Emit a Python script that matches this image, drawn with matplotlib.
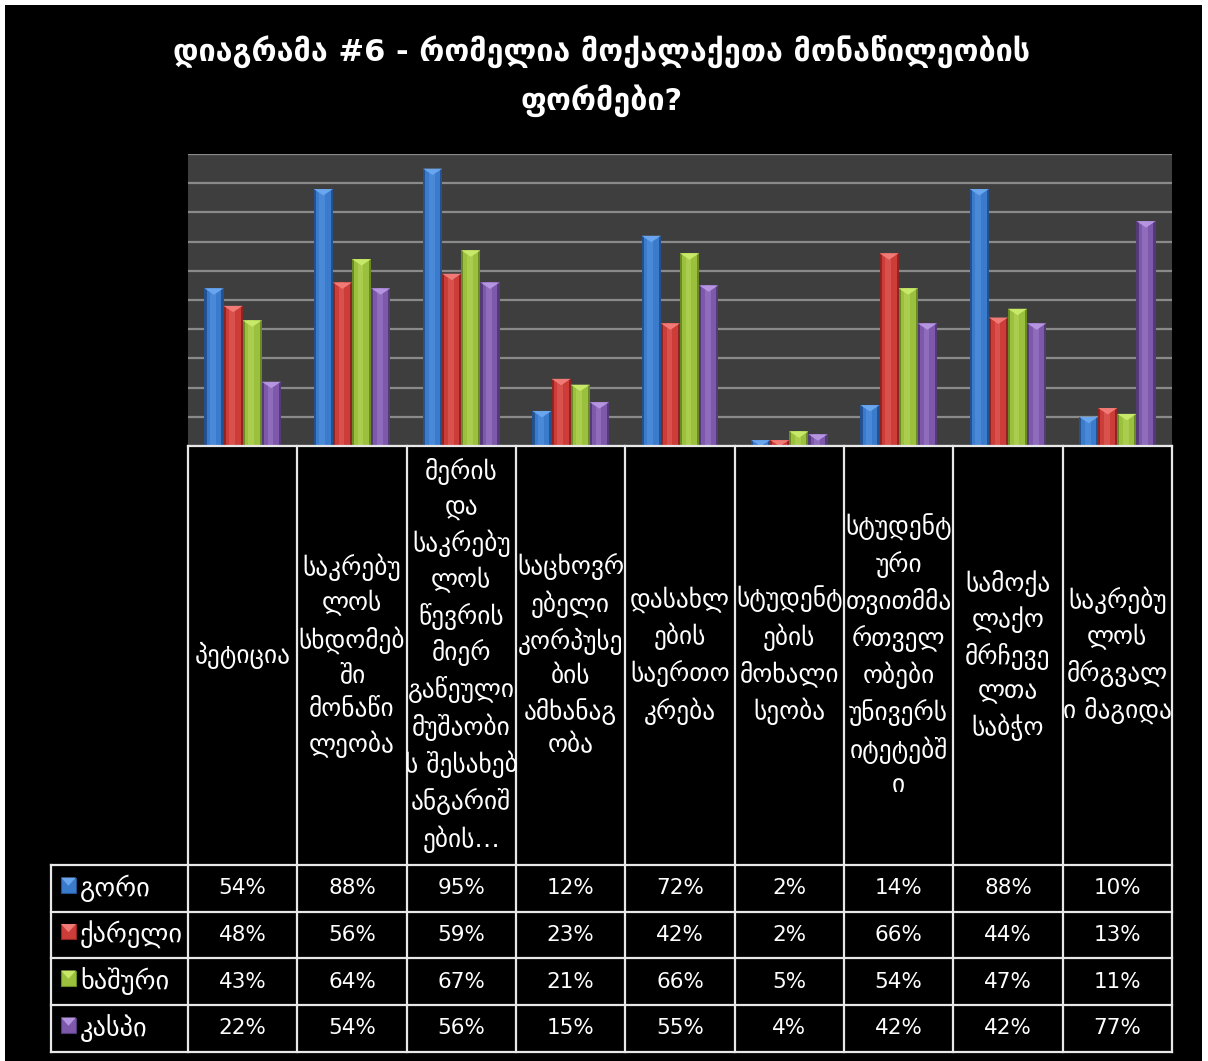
import matplotlib
matplotlib.use("Agg")
import matplotlib.pyplot as plt
from matplotlib.patches import Rectangle, Polygon
import numpy as np

plt.rcParams['font.family'] = ['DejaVu Sans']

title = "დიაგრამა #6 - რომელია მოქალაქეთა მონაწილეობის\nფორმები?"
categories = [
    "პეტიცია",
    "საკრებუ\nლოს\nსხდომებ\nში\nმონაწი\nლეობა",
    "მერის\nდა\nსაკრებუ\nლოს\nწევრის\nმიერ\nგაწეული\nმუშაობი\nს შესახებ\nანგარიშ\nების…",
    "საცხოვრ\nებელი\nკორპუსე\nბის\nამხანაგ\nობა",
    "დასახლ\nების\nსაერთო\nკრება",
    "სტუდენტ\nების\nმოხალი\nსეობა",
    "სტუდენტ\nური\nთვითმმა\nრთველ\nობები\nუნივერს\nიტეტებშ\nი",
    "სამოქა\nლაქო\nმრჩევე\nლთა\nსაბჭო",
    "საკრებუ\nლოს\nმრგვალ\nი მაგიდა",
]
series_names = ["გორი", "ქარელი", "ხაშური", "კასპი"]
gori = [54, 88, 95, 12, 72, 2, 14, 88, 10]
kareli = [48, 56, 59, 23, 42, 2, 66, 44, 13]
khashuri = [43, 64, 67, 21, 66, 5, 54, 47, 11]
kaspi = [22, 54, 56, 15, 55, 4, 42, 42, 77]
series_values = [gori, kareli, khashuri, kaspi]

colors = ["#3a7bcc", "#cc3c38", "#9bc03e", "#7d58ab"]
darks = ["#24518f", "#8f2522", "#6a8a25", "#553a7a"]
lights = ["#6aa6ee", "#f07a75", "#c8e86a", "#b594e0"]

W, H = 1208, 1061
fig = plt.figure(figsize=(W / 100, H / 100), dpi=100)
fig.patch.set_facecolor("white")

def fx(x):
    return x / W

def fy(y):
    return 1 - y / H

# black background
bg = Rectangle((fx(5), 0), fx(1202) - fx(5), fy(5), transform=fig.transFigure,
               facecolor="black", edgecolor="none", zorder=-10)
fig.patches.append(bg)

fig.text(fx(602), fy(76), title, ha="center", va="center", color="white",
         fontsize=22, fontweight="bold", linespacing=1.6)

# plot area
left, right, top, bottom = 188, 1172, 154, 446
ax = fig.add_axes([fx(left), fy(bottom), fx(right) - fx(left), fy(top) - fy(bottom)])
ax.set_zorder(1)
ax.set_facecolor("#3e3e3e")
n = len(categories)
ax.set_xlim(-0.5, n - 0.5)
ax.set_ylim(0, 1.0)
ax.set_yticks(np.arange(0, 1.01, 0.1))
ax.yaxis.grid(True, color="#8a8a8a", linewidth=1.6)
ax.set_axisbelow(True)
ax.tick_params(left=False, bottom=False, labelleft=False, labelbottom=False)
for s in ax.spines.values():
    s.set_visible(False)

bw = 0.175
x = np.arange(n)
cap = 0.022
for k, vals in enumerate(series_values):
    v = np.array(vals) / 100.0
    xs = x + (k - 1.5) * bw
    ax.bar(xs, v, width=bw, color=darks[k], zorder=2, linewidth=0)
    ax.bar(xs, v, width=bw * 0.78, color=colors[k], zorder=3, linewidth=0)
    ax.bar(xs - bw * 0.05, v, width=bw * 0.3, color=lights[k], alpha=0.35, zorder=4, linewidth=0)
    for xi, vi in zip(xs, v):
        h = min(cap, vi)
        ax.add_patch(Polygon([(xi - bw / 2, vi), (xi + bw / 2, vi), (xi, vi - h)],
                             closed=True, facecolor=lights[k], edgecolor="none", zorder=5))

# table
cw = (right - left) / n
col_x = [left + i * cw for i in range(n + 1)]
hdr_top, hdr_bot = 446, 865
row_y = [865, 912, 958, 1005, 1052]
leg_left = 51
lw = 1.6
lc = "#e8e8e8"

def hline(y, x0, x1):
    fig.add_artist(plt.Line2D([fx(x0), fx(x1)], [fy(y), fy(y)], transform=fig.transFigure,
                              color=lc, linewidth=lw, zorder=3))

def vline(xv, y0, y1):
    fig.add_artist(plt.Line2D([fx(xv), fx(xv)], [fy(y0), fy(y1)], transform=fig.transFigure,
                              color=lc, linewidth=lw, zorder=3))

hline(hdr_top, left, right)
for y in row_y:
    hline(y, leg_left, right)
for xv in col_x:
    vline(xv, hdr_top, row_y[-1])
vline(leg_left, row_y[0], row_y[-1])

for i, cat in enumerate(categories):
    fig.text(fx(left + (i + 0.5) * cw), fy((hdr_top + hdr_bot) / 2), cat, ha="center", va="center",
             color="white", fontsize=18.3, linespacing=1.47)

for k, (name, vals) in enumerate(zip(series_names, series_values)):
    yc = (row_y[k] + row_y[k + 1]) / 2
    sq = 15
    sx, sy = 61, yc - 11
    fig.patches.append(Rectangle((fx(sx), fy(sy + sq)), fx(sq), sq / H, transform=fig.transFigure,
                                 facecolor=colors[k], edgecolor=darks[k], linewidth=0.8))
    fig.patches.append(Polygon([(fx(sx), fy(sy)), (fx(sx + sq), fy(sy)), (fx(sx + sq / 2), fy(sy + sq * 0.55))],
                               closed=True, transform=fig.transFigure, facecolor=lights[k], edgecolor="none"))
    fig.text(fx(80), fy(yc), name, ha="left", va="center", color="white", fontsize=19)
    for i, v in enumerate(vals):
        fig.text(fx(left + (i + 0.5) * cw), fy(yc), f"{v}%", ha="center", va="center",
                 color="white", fontsize=15.5)

fig.savefig("out.png", dpi=100, facecolor=fig.get_facecolor())
